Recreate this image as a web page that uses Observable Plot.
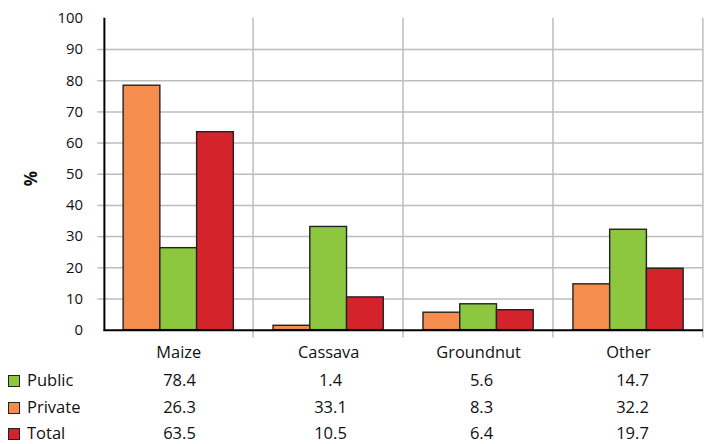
<!DOCTYPE html>
<html>
<head>
<meta charset="utf-8">
<script src="https://cdn.jsdelivr.net/npm/d3@7"></script>
<script src="https://cdn.jsdelivr.net/npm/@observablehq/plot@0.6"></script>
<style>
  body { margin: 0; background: #fff; overflow: hidden; }
  #chart { position: relative; width: 704px; height: 444px; overflow: hidden;
           font-family: "Open Sans", "Noto Sans", sans-serif; color: #111; }
  #chart svg { display: block; }
  .row { position: absolute; left: 0; width: 704px; height: 22px; font-size: 16.5px; line-height: 22px; }
  .swatch { position: absolute; left: 8px; top: 6px; width: 10px; height: 10px; border: 1.5px solid #222; }
  .name { position: absolute; left: 27px; top: 0; }
  .cell { position: absolute; top: 0; transform: translateX(-50%); white-space: nowrap; }
</style>
</head>
<body>
<div id="chart"></div>
<script>
// Crop categories and the three share series (percent)
const crops = ["Maize", "Cassava", "Groundnut", "Other"];
const series = ["Public", "Private", "Total"];
const publicShare = [78.4, 1.4, 5.6, 14.7];
const privateShare = [26.3, 33.1, 8.3, 32.2];
const totalShare = [63.5, 10.5, 6.4, 19.7];
const yTicks = [0, 10, 20, 30, 40, 50, 60, 70, 80, 90, 100];

// Bar fills, in series order, and the swatches shown in the key table
const barColors = ["#f58d4e", "#8dc63f", "#d4232b"];
const keyColors = ["#8dc63f", "#f58d4e", "#d4232b"];

const valuesBySeries = [publicShare, privateShare, totalShare];
const rows = crops.flatMap((crop, i) =>
  series.map((s, j) => ({crop, series: s, value: valuesBySeries[j][i]}))
);

const width = 709, marginLeft = 103, marginRight = 0;
const facetWidth = (width - marginLeft - marginRight) / crops.length;
const step = facetWidth / (series.length + 1); // band step inside a crop group
const grid = "#bdbdbd";
const innerTicks = yTicks.filter(t => t > 0 && t < 100);

const plot = Plot.plot({
  width, height: 365,
  marginTop: 18, marginBottom: 33, marginLeft, marginRight,
  style: {fontFamily: "'Open Sans', 'Noto Sans', sans-serif", fontSize: "15px", color: "#111", background: "transparent", overflow: "visible"},
  fx: {domain: crops, padding: 0, axis: null},
  x: {domain: series, paddingInner: 0, paddingOuter: 0.5, axis: null},
  y: {domain: [0, 100], axis: null},
  color: {domain: series, range: barColors},
  marks: [
    // horizontal grid
    Plot.ruleY(innerTicks, {stroke: grid, strokeWidth: 1.5}),
    // vertical separators at the right edge of each crop group
    Plot.ruleX(crops, {fx: d => d, x: () => series[series.length - 1], dx: step, y1: -2.5, y2: 100, stroke: grid, strokeWidth: 1.5}),
    // y tick marks and labels
    Plot.axisY({ticks: innerTicks, tickSize: 6, tickFormat: () => "", stroke: grid, strokeWidth: 1.5, label: null}),
    Plot.axisY({ticks: yTicks, tickSize: 0, tickPadding: 21, fontSize: 15, fill: "#111", label: null}),
    // bars
    Plot.barY(rows, {fx: "crop", x: "series", y: "value", fill: "series", stroke: "#222", strokeWidth: 1.4}),
    // axis lines
    Plot.ruleY([0], {stroke: "#000", strokeWidth: 2}),
    Plot.ruleX([{crop: crops[0]}], {fx: "crop", x: () => series[0], dx: -step, y1: 0, y2: 100, stroke: "#000", strokeWidth: 2}),
    // y axis title
    Plot.text([{crop: crops[0]}], {fx: "crop", frameAnchor: "left", dx: -73, dy: 12, text: () => "%", rotate: -90, fontWeight: "bold", fontSize: 17, fill: "#111"}),
    // crop names
    Plot.axisFx({anchor: "bottom", tickSize: 0, tickPadding: 16, fontSize: 16.5, fill: "#111", label: null})
  ]
});

const chart = document.getElementById("chart");
chart.appendChild(plot);

// Key table below the chart: one row per series, one column per crop
const fx = plot.scale("fx");
const centers = crops.map(c => fx.apply(c) + fx.bandwidth / 2);
const rowTops = [369, 395.5, 422];
series.forEach((s, j) => {
  const row = document.createElement("div");
  row.className = "row";
  row.style.top = rowTops[j] + "px";
  const sw = document.createElement("span");
  sw.className = "swatch";
  sw.style.background = keyColors[j];
  row.appendChild(sw);
  const name = document.createElement("span");
  name.className = "name";
  name.textContent = s;
  row.appendChild(name);
  valuesBySeries[j].forEach((v, i) => {
    const cell = document.createElement("span");
    cell.className = "cell";
    cell.style.left = centers[i] + "px";
    cell.textContent = v.toFixed(1);
    row.appendChild(cell);
  });
  chart.appendChild(row);
});
</script>
</body>
</html>
